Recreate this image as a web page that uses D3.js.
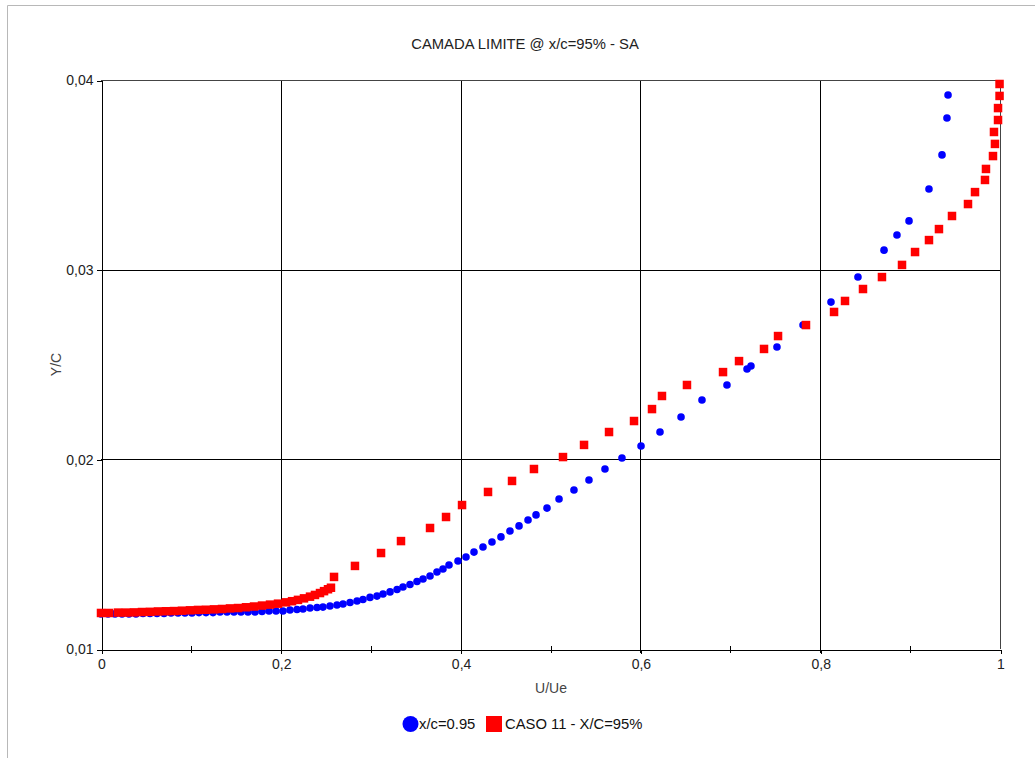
<!DOCTYPE html>
<html>
<head>
<meta charset="utf-8">
<script src="https://cdn.jsdelivr.net/npm/d3@7"></script>
<style>
  html, body { margin: 0; padding: 0; background: #fff; }
  svg { display: block; font-family: "Liberation Sans", Arial, sans-serif; }
</style>
</head>
<body>
<svg id="chart" width="1035" height="758"></svg>
<script>
// Boundary-layer profile at x/c = 95% (U/Ue vs Y/C)
const chartTitle = "CAMADA LIMITE @ x/c=95% - SA";
const xTitle = "U/Ue";
const yTitle = "Y/C";
const seriesNames = ["x/c=0.95", "CASO 11 - X/C=95%"];

const xTicks = [0, 0.2, 0.4, 0.6, 0.8, 1];
const xMinorTicks = [0.1, 0.3, 0.5, 0.7, 0.9];
const yTicks = [0.01, 0.02, 0.03, 0.04];

// Series 1: x/c=0.95 (blue circles)
const blueU = [0, 0.0078, 0.0156, 0.0234, 0.0311, 0.0389, 0.0467, 0.0545, 0.0623, 0.0701,
  0.0779, 0.0857, 0.0934, 0.1012, 0.109, 0.1168, 0.1246, 0.1324, 0.1402, 0.1479,
  0.1557, 0.1635, 0.1713, 0.1791, 0.1869, 0.1947, 0.2024, 0.2102, 0.218, 0.2247,
  0.2325, 0.2403, 0.2469, 0.2547, 0.2625, 0.2692, 0.277, 0.2848, 0.2914, 0.2992,
  0.307, 0.3137, 0.3215, 0.3293, 0.3359, 0.3437, 0.3515, 0.3582, 0.366, 0.3737,
  0.3804, 0.3871, 0.3971, 0.406, 0.4149, 0.4249, 0.4349, 0.4449, 0.4549, 0.465,
  0.475, 0.4839, 0.4961, 0.5095, 0.5261, 0.5428, 0.5606, 0.5795, 0.6007, 0.6218,
  0.6452, 0.6685, 0.6963, 0.7186, 0.723, 0.7519, 0.7809, 0.812, 0.842, 0.871,
  0.8854, 0.8988, 0.921, 0.9355, 0.941, 0.9422];
const blueY = [0.01185, 0.01185, 0.01185, 0.01185, 0.01185, 0.01185, 0.01187, 0.01187, 0.01187, 0.01187,
  0.0119, 0.0119, 0.0119, 0.0119, 0.01192, 0.01192, 0.01192, 0.01195, 0.01195, 0.01195,
  0.01195, 0.01195, 0.01195, 0.01198, 0.012, 0.012, 0.012, 0.01206, 0.01208, 0.01211,
  0.01216, 0.01219, 0.01221, 0.01227, 0.01232, 0.01237, 0.01245, 0.01253, 0.01261, 0.01272,
  0.01279, 0.0129, 0.01301, 0.01314, 0.01327, 0.0134, 0.01356, 0.01369, 0.01385, 0.01406,
  0.01422, 0.01443, 0.01464, 0.01485, 0.01511, 0.01538, 0.01564, 0.01591, 0.01622, 0.01649,
  0.0168, 0.01707, 0.01743, 0.01791, 0.01838, 0.01891, 0.01949, 0.02007, 0.0207, 0.02144,
  0.02223, 0.02313, 0.02392, 0.02476, 0.02492, 0.02592, 0.02708, 0.02829, 0.02961, 0.03103,
  0.03183, 0.03257, 0.03425, 0.03605, 0.038, 0.03921];

// Series 2: CASO 11 - X/C=95% (red squares)
const redU = [0, 0.0089, 0.0189, 0.0278, 0.0367, 0.0456, 0.0545, 0.0634, 0.0723, 0.0812,
  0.0901, 0.099, 0.1079, 0.1168, 0.1257, 0.1346, 0.1435, 0.1524, 0.1613, 0.1702,
  0.1791, 0.188, 0.1969, 0.2058, 0.2125, 0.2191, 0.2258, 0.2325, 0.238, 0.2436,
  0.2481, 0.2525, 0.2558,
  0.2592, 0.2825, 0.3115, 0.3337, 0.366, 0.3838, 0.4016, 0.4305, 0.4572, 0.4816,
  0.5139, 0.5373, 0.5651, 0.5929, 0.6129, 0.624, 0.6518, 0.6919, 0.7097, 0.7375,
  0.7531, 0.7842, 0.8154, 0.8276, 0.8476, 0.8687, 0.891, 0.9055, 0.921, 0.9321,
  0.9466, 0.9644, 0.9722, 0.9833, 0.9844, 0.9922, 0.9944, 0.9933, 0.9978, 0.9978,
  0.9995, 0.9995];
const redY = [0.0119, 0.0119, 0.01192, 0.01192, 0.01193, 0.01195, 0.01196, 0.01198, 0.01199, 0.012,
  0.01202, 0.01204, 0.01206, 0.01207, 0.01209, 0.01211, 0.01214, 0.01216, 0.0122, 0.01224,
  0.01229, 0.01234, 0.01239, 0.01246, 0.01252, 0.01259, 0.01267, 0.01276, 0.01285, 0.01295,
  0.01305, 0.01315, 0.01323,
  0.0138, 0.01438, 0.01506, 0.01569, 0.01638, 0.01696, 0.01759, 0.01828, 0.01886, 0.01949,
  0.02012, 0.02076, 0.02144, 0.02202, 0.02265, 0.02334, 0.02392, 0.0246, 0.02518, 0.02582,
  0.0265, 0.02708, 0.02777, 0.02835, 0.02898, 0.02961, 0.03025, 0.03093, 0.03156, 0.03214,
  0.03283, 0.03346, 0.03409, 0.03473, 0.03531, 0.03599, 0.03663, 0.03726, 0.03789, 0.03852,
  0.03916, 0.03979];

const blueColor = "#0000ff";
const redColor = "#ff0000";

const svg = d3.select("#chart");
const W = 1035, H = 758;
const plot = { left: 101, right: 1000, top: 80, bottom: 649 };

// Outer panel border (top and left edges visible)
svg.append("path")
  .attr("d", `M7.5,${H} V5.5 H${W}`)
  .attr("fill", "none")
  .attr("stroke", "#b8b8b8")
  .attr("stroke-width", 1);

const x = d3.scaleLinear().domain([0, 1]).range([plot.left, plot.right]);
const y = d3.scaleLinear().domain([0.01, 0.04]).range([plot.bottom, plot.top]);

const fmt = v => (v === 0 || v === 1) ? String(v) : d3.format(".1f")(v).replace(".", ",");
const fmtY = v => d3.format(".2f")(v).replace(".", ",");

// Grid lines
const grid = svg.append("g").attr("stroke", "#000").attr("stroke-width", 1).attr("shape-rendering", "crispEdges");
grid.selectAll("line.gx").data(xTicks.slice(1, -1)).join("line")
  .attr("x1", d => Math.round(x(d)) + 0.5).attr("x2", d => Math.round(x(d)) + 0.5)
  .attr("y1", plot.top).attr("y2", plot.bottom);
grid.selectAll("line.gy").data(yTicks.slice(1, -1)).join("line")
  .attr("y1", d => Math.round(y(d)) + 0.5).attr("y2", d => Math.round(y(d)) + 0.5)
  .attr("x1", plot.left).attr("x2", plot.right);

// Plot frame (top, right)
svg.append("path")
  .attr("d", `M${plot.left},${plot.top + 0.5} H${plot.right + 0.5} V${plot.bottom}`)
  .attr("fill", "none").attr("stroke", "#444").attr("stroke-width", 1)
  .attr("shape-rendering", "crispEdges");

// Axes
const xAxis = svg.append("g")
  .attr("transform", `translate(0.5,${plot.bottom + 0.5})`)
  .call(d3.axisBottom(x).tickValues(xTicks).tickFormat(fmt).tickSize(4).tickSizeOuter(0).tickPadding(6));
const xMinor = svg.append("g").attr("stroke", "#000").attr("shape-rendering", "crispEdges");
xMinor.selectAll("line").data(xMinorTicks.concat(xTicks.slice(1, -1))).join("line")
  .attr("x1", d => Math.round(x(d)) + 0.5).attr("x2", d => Math.round(x(d)) + 0.5)
  .attr("y1", plot.bottom - 3).attr("y2", plot.bottom + 4);

const yAxis = svg.append("g")
  .attr("transform", `translate(${plot.left + 0.5},0.5)`)
  .call(d3.axisLeft(y).tickValues(yTicks).tickFormat(fmtY).tickSize(5).tickSizeOuter(0).tickPadding(3));

[xAxis, yAxis].forEach(g => {
  g.select(".domain").attr("stroke", "#000").attr("shape-rendering", "crispEdges");
  g.selectAll(".tick line").attr("stroke", "#000").attr("shape-rendering", "crispEdges");
  g.selectAll(".tick text").attr("fill", "#222").attr("font-size", 14)
    .attr("font-family", "'Liberation Sans', Arial, sans-serif");
});

// Titles
svg.append("text").attr("x", 525).attr("y", 49).attr("text-anchor", "middle")
  .attr("font-size", 14.8).attr("fill", "#222").text(chartTitle);
svg.append("text").attr("x", 551).attr("y", 693).attr("text-anchor", "middle")
  .attr("font-size", 14).attr("fill", "#444").text(xTitle);
svg.append("text").attr("transform", `translate(61,${(plot.top + plot.bottom) / 2}) rotate(-90)`)
  .attr("text-anchor", "middle").attr("font-size", 14).attr("fill", "#444").text(yTitle);

// Data marks
const blueData = blueU.map((u, i) => ({ u, v: blueY[i] }));
const redData = redU.map((u, i) => ({ u, v: redY[i] }));

svg.append("g").selectAll("circle").data(blueData).join("circle")
  .attr("cx", d => x(d.u)).attr("cy", d => y(d.v)).attr("r", 3.8)
  .attr("fill", blueColor);

const sq = 8.5;
svg.append("g").selectAll("rect").data(redData).join("rect")
  .attr("x", d => x(d.u) - sq / 2).attr("y", d => y(d.v) - sq / 2)
  .attr("width", sq).attr("height", sq)
  .attr("fill", redColor);

// Legend
const legend = svg.append("g");
legend.append("circle").attr("cx", 410.5).attr("cy", 724).attr("r", 8).attr("fill", blueColor);
legend.append("text").attr("x", 419).attr("y", 729).attr("font-size", 14.8).attr("fill", "#111")
  .attr("font-weight", 500).text(seriesNames[0]);
legend.append("rect").attr("x", 486).attr("y", 716).attr("width", 16).attr("height", 16).attr("fill", redColor);
legend.append("text").attr("x", 505).attr("y", 729).attr("font-size", 14.8).attr("fill", "#111")
  .attr("font-weight", 500).text(seriesNames[1]);
</script>
</body>
</html>
